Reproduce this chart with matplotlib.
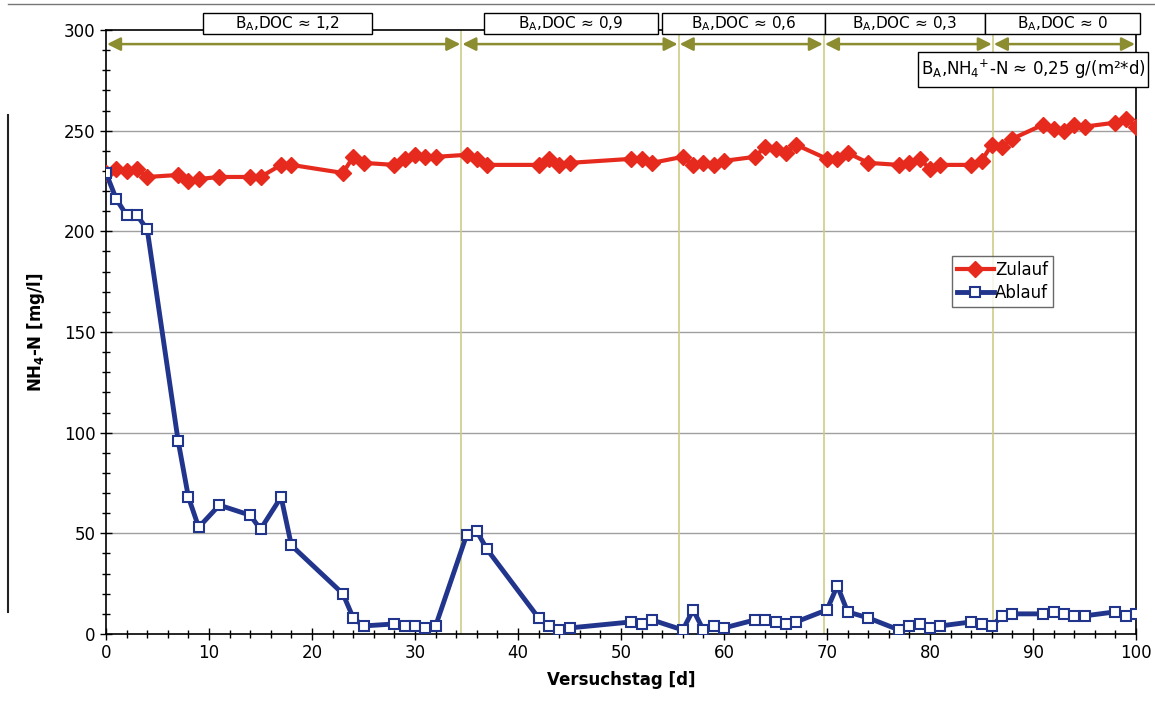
import matplotlib
matplotlib.use("Agg")
import matplotlib.pyplot as plt
from matplotlib.patches import Rectangle
from matplotlib.ticker import MultipleLocator

# ---- data ----
days = [0, 1, 2, 3, 4, 7, 8, 9, 11, 14, 15, 17, 18, 23, 24, 25, 28, 29, 30, 31, 32,
        35, 36, 37, 42, 43, 44, 45, 51, 52, 53, 56, 57, 58, 59, 60, 63, 64, 65, 66, 67,
        70, 71, 72, 74, 77, 78, 79, 80, 81, 84, 85, 86, 87, 88, 91, 92, 93, 94, 95,
        98, 99, 100]
zulauf = [229, 231, 230, 231, 227, 228, 225, 226, 227, 227, 227, 233, 233, 229, 237, 234,
          233, 236, 238, 237, 237, 238, 236, 233, 233, 236, 233, 234, 236, 236, 234, 237,
          233, 234, 233, 235, 237, 242, 241, 239, 243, 236, 236, 239, 234, 233, 234, 236,
          231, 233, 233, 235, 243, 242, 246, 253, 251, 250, 253, 252, 254, 256, 252]
ablauf = [229, 216, 208, 208, 201, 96, 68, 53, 64, 59, 52, 68, 44, 20, 8, 4, 5, 4, 4, 3, 4,
          49, 51, 42, 8, 4, 2, 3, 6, 5, 7, 2, 12, 2, 4, 3, 7, 7, 6, 5, 6,
          12, 24, 11, 8, 2, 4, 5, 3, 4, 6, 5, 4, 9, 10, 10, 11, 10, 9, 9, 11, 9, 10]

phase_bounds = [0, 34.5, 55.6, 69.7, 86.1, 100]
phase_labels = ["B$_{\\rm A}$,DOC ≈ 1,2", "B$_{\\rm A}$,DOC ≈ 0,9", "B$_{\\rm A}$,DOC ≈ 0,6",
                "B$_{\\rm A}$,DOC ≈ 0,3", "B$_{\\rm A}$,DOC ≈ 0"]
nh4_label = "B$_{\\rm A}$,NH$_4$$^{+}$-N ≈ 0,25 g/(m²*d)"

W, H = 1155, 720
fig = plt.figure(figsize=(W / 100, H / 100), dpi=100)
fig.patch.set_facecolor("white")
ax = fig.add_axes([106 / W, 1 - 634 / H, 1030 / W, 604 / H])

# grid
for yv in [50, 100, 150, 200, 250]:
    ax.axhline(yv, color="#a0a0a0", lw=1.0, zorder=0)
for xv in phase_bounds[1:-1]:
    ax.axvline(xv, color="#cccc88", lw=1.2, zorder=0)

ax.plot(days, zulauf, color="#e62b1e", lw=3, marker="D", ms=8, mfc="#e62b1e",
        mec="#e62b1e", label="Zulauf", zorder=3)
ax.plot(days, ablauf, color="#22358c", lw=3.5, marker="s", ms=7, mfc="white",
        mec="#22358c", mew=1.5, label="Ablauf", zorder=4)

ax.set_xlim(0, 100)
ax.set_ylim(0, 300)
ax.xaxis.set_major_locator(MultipleLocator(10))
ax.xaxis.set_minor_locator(MultipleLocator(2))
ax.yaxis.set_major_locator(MultipleLocator(50))
ax.yaxis.set_minor_locator(MultipleLocator(10))
ax.tick_params(axis="both", which="major", labelsize=12, direction="inout", length=8, width=1)
ax.tick_params(axis="both", which="minor", direction="inout", length=6, width=1)
for s in ax.spines.values():
    s.set_linewidth(1.2)

ax.set_xlabel("Versuchstag [d]", fontsize=12, fontweight="bold", labelpad=6)
ax.set_ylabel("NH$_\\mathbf{4}$-N [mg/l]", fontsize=12, fontweight="bold", labelpad=12)

# phase arrows
for a, b in zip(phase_bounds[:-1], phase_bounds[1:]):
    ax.annotate("", xy=(a + 0.1, 293), xytext=(b - 0.1, 293),
                arrowprops=dict(arrowstyle="<|-|>", color="#8c8c30", lw=1.8,
                                mutation_scale=20, shrinkA=0, shrinkB=0), zorder=5)

# phase label boxes (figure pixel positions)
boxes = [(203, 372), (484, 658), (662, 825), (825, 985), (985, 1140)]
for (x0, x1), lab in zip(boxes, phase_labels):
    fig.patches.append(Rectangle((x0 / W, 1 - 34 / H), (x1 - x0) / W, 21 / H,
                                 transform=fig.transFigure, facecolor="white",
                                 edgecolor="black", lw=1.0, zorder=10))
    fig.text((x0 + x1) / 2 / W, 1 - 24 / H, lab, ha="center", va="center",
             fontsize=11, zorder=11)

fig.patches.append(Rectangle((918 / W, 1 - 87 / H), (1148 - 918) / W, 35 / H,
                             transform=fig.transFigure, facecolor="white",
                             edgecolor="black", lw=1.0, zorder=10))
fig.text(1033 / W, 1 - 69 / H, nh4_label, ha="center", va="center", fontsize=12, zorder=11)

leg = ax.legend(loc="upper left", bbox_to_anchor=((952 - 106) / 1030, (634 - 256) / 604),
                fontsize=12, frameon=True, fancybox=False, handlelength=2.2,
                handletextpad=0.1, borderpad=0.3, labelspacing=0.3, borderaxespad=0)
leg.get_frame().set_edgecolor("#444444")
leg.get_frame().set_linewidth(1.0)

# scan-like outer frame lines
fig.add_artist(plt.Line2D([8 / W, 1], [1 - 4 / H, 1 - 4 / H], transform=fig.transFigure,
                          color="#777777", lw=1))
fig.add_artist(plt.Line2D([8 / W, 8 / W], [1 - 115 / H, 1 - 612 / H], transform=fig.transFigure,
                          color="#222222", lw=1.5))

fig.savefig("out.png", dpi=100)
